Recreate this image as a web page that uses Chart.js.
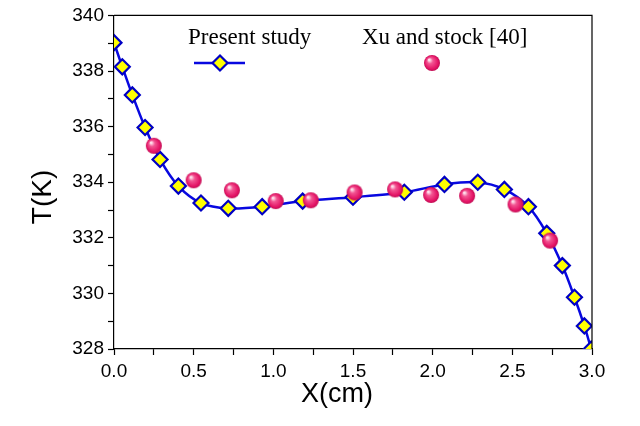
<!DOCTYPE html>
<html>
<head>
<meta charset="utf-8">
<script src="https://cdn.jsdelivr.net/npm/chart.js@4/dist/chart.umd.min.js"></script>
<style>
html, body { margin: 0; padding: 0; background: #ffffff; }
#wrap { width: 640px; height: 426px; }
</style>
</head>
<body>
<div id="wrap"><canvas id="tempChart"></canvas></div>
<script>
// ========================================
// Data
// ========================================

const presentX = [0.0, 0.052, 0.115, 0.195, 0.289, 0.404, 0.546, 0.717, 0.93, 1.184, 1.5, 1.822, 2.074, 2.283, 2.45, 2.601, 2.716, 2.814, 2.89, 2.952, 2.995];
const presentT = [339.02, 338.15, 337.14, 335.97, 334.82, 333.86, 333.25, 333.06, 333.12, 333.32, 333.46, 333.64, 333.92, 334.0, 333.74, 333.12, 332.16, 331.0, 329.86, 328.83, 328.0];

const xuX = [0.25, 0.50, 0.74, 1.015, 1.235, 1.51, 1.764, 1.99, 2.216, 2.52, 2.737];
const xuT = [335.31, 334.07, 333.71, 333.32, 333.35, 333.63, 333.74, 333.54, 333.51, 333.2, 331.9];

const xTicks = [0.0, 0.5, 1.0, 1.5, 2.0, 2.5, 3.0];
const yTicks = [328, 330, 332, 334, 336, 338, 340];

const SANS = "'Liberation Sans', Arial, sans-serif";
const SERIF = "'Liberation Serif', 'Times New Roman', serif";
const LINE_BLUE = "#0808e0";
const EDGE_BLUE = "#0000c4";

// ========================================
// Sphere marker
// ========================================

function makeSphere(r) {
  const c = document.createElement("canvas");
  c.width = r * 2 + 2;
  c.height = r * 2 + 2;
  const g = c.getContext("2d");
  const cx = r + 1, cy = r + 1;
  const grad = g.createRadialGradient(cx - r * 0.35, cy - r * 0.4, r * 0.1, cx, cy, r);
  grad.addColorStop(0, "#ffe0ec");
  grad.addColorStop(0.3, "#f25592");
  grad.addColorStop(0.8, "#e41466");
  grad.addColorStop(1, "#c00c52");
  g.fillStyle = grad;
  g.beginPath();
  g.arc(cx, cy, r, 0, Math.PI * 2);
  g.fill();
  return c;
}

const sphere = makeSphere(8);

// ========================================
// Frame, titles, legend
// ========================================

const decorPlugin = {
  id: "decor",
  afterDraw(chart) {
    const ctx = chart.ctx;
    const a = chart.chartArea;
    ctx.save();
    // frame (top + right)
    ctx.strokeStyle = "#000000";
    ctx.lineWidth = 1.2;
    ctx.beginPath();
    ctx.moveTo(a.left, a.top);
    ctx.lineTo(a.right, a.top);
    ctx.lineTo(a.right, a.bottom);
    ctx.stroke();

    // axis titles
    ctx.fillStyle = "#000000";
    ctx.textAlign = "center";
    ctx.textBaseline = "middle";
    ctx.font = "27px " + SANS;
    ctx.fillText("X(cm)", 337, 395);
    ctx.save();
    ctx.translate(43, 197);
    ctx.rotate(-Math.PI / 2);
    ctx.font = "28px " + SANS;
    ctx.fillText("T(K)", 0, 0);
    ctx.restore();

    // legend
    ctx.font = "23px " + SERIF;
    ctx.textAlign = "left";
    ctx.fillText("Present study", 188, 38);
    ctx.fillText("Xu and stock [40]", 362, 38);

    ctx.strokeStyle = LINE_BLUE;
    ctx.lineWidth = 2.5;
    ctx.beginPath();
    ctx.moveTo(194, 63);
    ctx.lineTo(245, 63);
    ctx.stroke();
    ctx.fillStyle = "#ffff00";
    ctx.strokeStyle = EDGE_BLUE;
    ctx.lineWidth = 2.2;
    ctx.beginPath();
    ctx.moveTo(220, 55.5);
    ctx.lineTo(227.5, 63);
    ctx.lineTo(220, 70.5);
    ctx.lineTo(212.5, 63);
    ctx.closePath();
    ctx.fill();
    ctx.stroke();

    ctx.drawImage(sphere, 432 - 9, 63 - 9);
    ctx.restore();
  }
};

// ========================================
// Chart
// ========================================

new Chart(

document.getElementById("tempChart"),

{

type: "scatter",

data: {

datasets: [

{
label: "Present study",
data: presentX.map((x, i) => ({ x: x, y: presentT[i] })),
showLine: true,
borderColor: LINE_BLUE,
borderWidth: 2.5,
tension: 0.3,
pointStyle: "rectRot",
pointRadius: 7.5,
pointBackgroundColor: "#ffff00",
pointBorderColor: EDGE_BLUE,
pointBorderWidth: 2.2,
clip: 0,
order: 2
},

{
label: "Xu and stock [40]",
data: xuX.map((x, i) => ({ x: x, y: xuT[i] })),
showLine: false,
pointStyle: sphere,
clip: 0,
order: 1
}

]

},

options: {

responsive: true,
maintainAspectRatio: false,
animation: false,
layout: { padding: { top: 15, right: 48, left: 0, bottom: 0 } },

plugins: {
legend: { display: false },
tooltip: { enabled: false }
},

scales: {

x: {
type: "linear",
min: 0,
max: 3,
afterBuildTicks: (s) => {
  const t = [];
  for (let i = 0; i <= 12; i++) t.push({ value: i * 0.25 });
  s.ticks = t;
},
ticks: {
  autoSkip: false,
  maxRotation: 0,
  color: "#000000",
  font: { family: SANS, size: 19 },
  padding: 5,
  callback: (v) => xTicks.some(t => Math.abs(t - v) < 1e-6) ? v.toFixed(1) : ""
},
grid: {
  drawOnChartArea: false,
  drawTicks: true,
  tickLength: 6,
  tickColor: "#000000",
  tickWidth: 1.2
},
border: { color: "#000000", width: 1.2 },
afterFit: (s) => { s.height = 77; }
},

y: {
type: "linear",
min: 328,
max: 340,
afterBuildTicks: (s) => {
  const t = [];
  for (let v = 328; v <= 340; v++) t.push({ value: v });
  s.ticks = t;
},
ticks: {
  autoSkip: false,
  color: "#000000",
  font: { family: SANS, size: 19 },
  padding: 4,
  callback: (v) => yTicks.includes(v) ? String(v) : ""
},
grid: {
  drawOnChartArea: false,
  drawTicks: true,
  tickLength: 6,
  tickColor: "#000000",
  tickWidth: 1.2
},
border: { color: "#000000", width: 1.2 },
afterFit: (s) => { s.width = 114; }
}

}

},

plugins: [decorPlugin]

}

);
</script>
</body>
</html>
